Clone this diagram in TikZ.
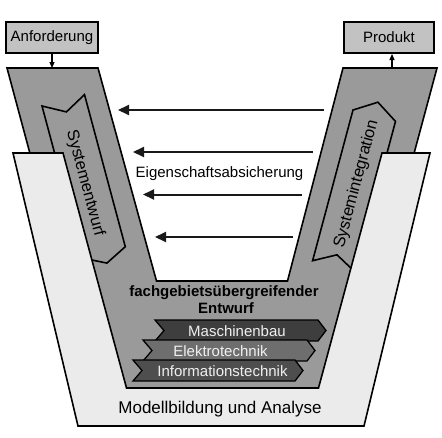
\documentclass[tikz,border=0pt]{standalone}
\usepackage{fontspec}
\setmainfont{Liberation Sans}
\usetikzlibrary{arrows.meta}
\definecolor{darkv}{HTML}{9A9A9A}
\definecolor{lightu}{HTML}{EBEBEB}
\definecolor{boxfill}{HTML}{C2C2C2}
\definecolor{barA}{HTML}{3E3E3E}
\definecolor{barB}{HTML}{6E6E6E}
\definecolor{barC}{HTML}{4E4E4E}
\definecolor{bartext}{HTML}{F0F0F0}
\begin{document}
\begin{tikzpicture}[x=1pt,y=-1pt,line join=miter,
  outline/.style={draw=black,line width=1.6pt},
  ioBox/.style={draw=black,line width=2pt,fill=boxfill,minimum width=92pt,minimum height=31pt,inner sep=0pt,font=\fontsize{15}{18}\selectfont},
  smallArrow/.style={draw=black,line width=1.1pt,-{Triangle[length=6pt,width=5pt]}},
  checkArrow/.style={draw=black!90,line width=2pt,-{Triangle[length=11pt,width=10pt]}},
  barShape/.style={draw=black,line width=1.3pt},
  barText/.style={text=bartext,anchor=base,font=\fontsize{15}{18}\selectfont},
  rotText/.style={font=\fontsize{16.5}{19}\selectfont}]
\useasboundingbox (0,0) rectangle (442,437);

% dark V
\draw[outline,fill=darkv] (7,68) -- (98,68) -- (156.5,281) -- (287.5,281) -- (343,68) -- (437,68) -- (351,388) -- (93,388) -- cycle;

% Systementwurf arrow shape
\draw[outline,fill=darkv] (42,106) -- (66.4,111.9) -- (84.5,94.6) -- (125.3,246.7) -- (106.9,263.1) -- (82.8,258.1) -- cycle;
% Systemintegration arrow shape
\draw[outline,fill=darkv] (353,110) -- (377.9,102.2) -- (395.5,121.4) -- (355.1,272.1) -- (337,254.8) -- (312.6,260.7) -- cycle;

% light U (drawn over the arms)
\draw[outline,fill=lightu] (13,153) -- (63,153) -- (126.5,388) -- (318.5,388) -- (382,153) -- (430,153) -- (364,426) -- (78,426) -- cycle;

% texts in arms
\node[rotText,rotate=-75] (entwurf) at (85,183) {Systementwurf};
\node[rotText,rotate=75] (integration) at (356.5,184) {Systemintegration};

% input / output boxes
\node[ioBox] (anf) at (52,37.5) {Anforderung};
\node[ioBox,minimum width=90pt] (prod) at (389,37.5) {Produkt};
\coordinate (vleft) at (52,68);
\coordinate (vright) at (392,68);
\draw[smallArrow] (anf.south -| vleft) -- (vleft);
\draw[smallArrow] (vright) -- (prod.south -| vright);

% property assurance arrows
\coordinate (a1r) at (324,110); \coordinate (a1l) at (118,110);
\coordinate (a2r) at (313,152); \coordinate (a2l) at (133,152);
\coordinate (a3r) at (302,194.5); \coordinate (a3l) at (143,194.5);
\coordinate (a4r) at (293,237); \coordinate (a4l) at (155,237);
\draw[checkArrow] (a1r) -- (a1l);
\draw[checkArrow] (a2r) -- (a2l);
\draw[checkArrow] (a3r) -- (a3l);
\draw[checkArrow] (a4r) -- (a4l);
\node[anchor=base,font=\fontsize{15}{18}\selectfont] (eig) at (219.5,177) {Eigenschaftsabsicherung};

% interdisciplinary design
\node[anchor=base,font=\bfseries\fontsize{15}{18}\selectfont] (fach) at (224,296.7) {fachgebietsübergreifender};
\node[anchor=base,font=\bfseries\fontsize{15}{18}\selectfont] (entw) at (226,313) {Entwurf};

% discipline bars
\draw[barShape,fill=barA] (155,320) -- (318,320) -- (326,330.5) -- (318,341) -- (155,341) -- (164,330.5) -- cycle;
\draw[barShape,fill=barB] (143,340) -- (307,340) -- (315,350.5) -- (307,361) -- (143,361) -- (152,350.5) -- cycle;
\draw[barShape,fill=barC] (133,360) -- (295,360) -- (303,370.5) -- (295,381) -- (133,381) -- (142,370.5) -- cycle;
\node[barText] (mb) at (237,336) {Maschinenbau};
\node[barText] (et) at (220.5,356) {Elektrotechnik};
\node[barText] (it) at (222.5,376) {Informationstechnik};

% modelling
\node[anchor=base,font=\fontsize{17}{20}\selectfont] (mod) at (220,413) {Modellbildung und Analyse};
\end{tikzpicture}
\end{document}
